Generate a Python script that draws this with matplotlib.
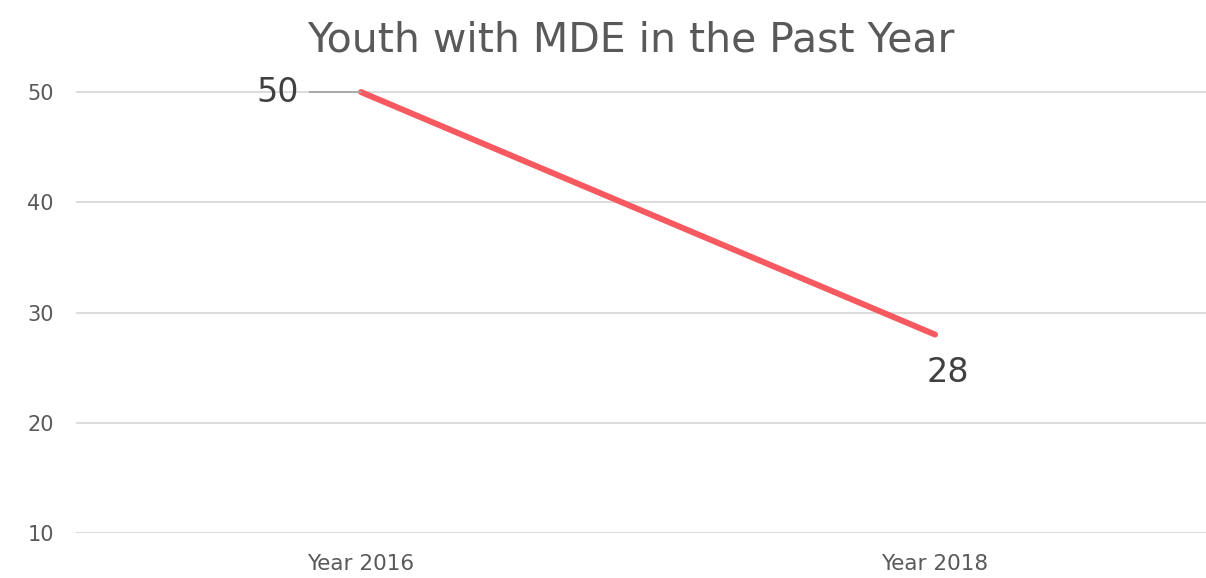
import matplotlib.pyplot as plt

years = ['Year 2016', 'Year 2018']
youth_mde = [50, 28]
y_ticks = [10, 20, 30, 40, 50]

text_gray = '#595959'
grid_gray = '#D9D9D9'
line_red = '#F65A60'

fig = plt.figure(figsize=(12.06, 5.78), dpi=100)
ax = fig.add_axes([76 / 1206, 45 / 578, 1 - 76 / 1206, (533 - 70) / 578])

x = list(range(len(years)))
ax.plot(x, youth_mde, color=line_red, linewidth=4.3, solid_capstyle='round', zorder=3)

ax.set_xlim(-0.4965, 1.472)
ax.set_ylim(10, 52)
ax.set_yticks(y_ticks)
ax.set_xticks(x)
ax.set_xticklabels(years)
ax.tick_params(axis='y', length=0, labelsize=15, colors=text_gray, pad=16)
ax.tick_params(axis='x', length=0, labelsize=15.5, colors=text_gray, pad=15)
ax.grid(axis='y', color=grid_gray, linewidth=1.3)
ax.set_axisbelow(True)
for s in ax.spines.values():
    s.set_visible(False)

# data labels
ax.annotate(str(youth_mde[0]), xy=(x[0], youth_mde[0]), xytext=(-45, 0),
            textcoords='offset points', ha='right', va='center',
            fontsize=24, color='#404040',
            arrowprops=dict(arrowstyle='-', color='#A6A6A6', lw=1.3,
                            shrinkA=6, shrinkB=0))
ax.annotate(str(youth_mde[1]), xy=(x[1], youth_mde[1]), xytext=(9, -27),
            textcoords='offset points', ha='center', va='center',
            fontsize=24, color='#404040')

fig.text(631 / 1206, 1 - 40 / 578, 'Youth with MDE in the Past Year',
         ha='center', va='center', fontsize=29.5, color=text_gray)

fig.savefig('out.png', dpi=100)
